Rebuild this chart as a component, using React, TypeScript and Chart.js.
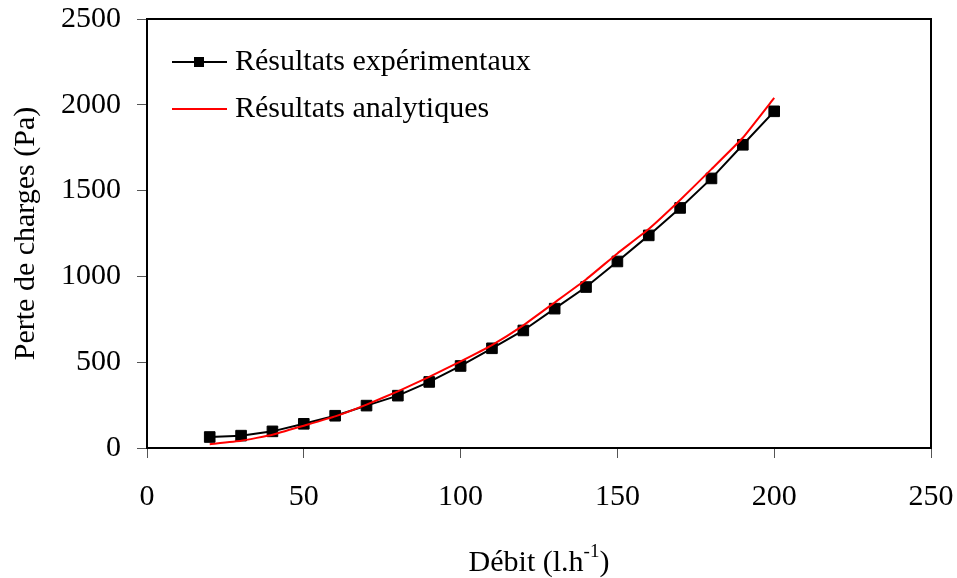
import React, { useEffect, useRef } from "react";
import { Chart, registerables } from "chart.js";

Chart.register(...registerables);

const debit = [20, 30, 40, 50, 60, 70, 80, 90, 100, 110, 120, 130, 140, 150, 160, 170, 180, 190, 200];
const experimental = [64, 72, 97, 141, 188, 247, 305, 385, 478, 581, 685, 812, 938, 1087, 1239, 1399, 1571, 1767, 1962];
const analytical = [22, 42, 77, 130, 184, 253, 330, 415, 505, 600, 715, 848, 982, 1134, 1276, 1445, 1625, 1808, 2040];
const seriesLabels = ["Résultats expérimentaux", "Résultats analytiques"];
const xTicks = [0, 50, 100, 150, 200, 250];
const yTicks = [0, 500, 1000, 1500, 2000, 2500];
const yTitle = "Perte de charges (Pa)";
const xTitleMain = "Débit (l.h";
const xTitleSup = "-1";
const xTitleEnd = ")";

const FONT = "'Liberation Serif', 'Times New Roman', serif";
const FS = 30;

const decorPlugin = {
  id: "decor",
  afterDatasetsDraw(chart: any) {
    const { ctx, chartArea } = chart;
    const { left, top, right, bottom } = chartArea;
    ctx.save();
    // frame
    ctx.strokeStyle = "#000";
    ctx.lineWidth = 2;
    ctx.strokeRect(left, top, right - left, bottom - top);

    // legend
    const ds = chart.data.datasets;
    const rows = [62, 109];
    ds.forEach((d: any, i: number) => {
      const y = rows[i];
      ctx.strokeStyle = d.borderColor;
      ctx.lineWidth = 2;
      ctx.beginPath();
      ctx.moveTo(172, y);
      ctx.lineTo(227, y);
      ctx.stroke();
      if (d.pointRadius > 0) {
        ctx.fillStyle = d.pointBackgroundColor;
        ctx.fillRect(194, y - 5, 10, 10);
      }
      ctx.fillStyle = "#000";
      ctx.font = `${FS}px ${FONT}`;
      ctx.textBaseline = "middle";
      ctx.textAlign = "left";
      ctx.fillText(d.label, 235, y);
    });

    // x title with superscript
    ctx.fillStyle = "#000";
    ctx.textBaseline = "alphabetic";
    ctx.textAlign = "left";
    const mainFont = `${FS}px ${FONT}`;
    const supFont = `19px ${FONT}`;
    ctx.font = mainFont;
    const w1 = ctx.measureText(xTitleMain).width;
    const w3 = ctx.measureText(xTitleEnd).width;
    ctx.font = supFont;
    const w2 = ctx.measureText(xTitleSup).width;
    const total = w1 + w2 + w3;
    const cx = (left + right) / 2;
    let x = cx - total / 2;
    const base = 571;
    ctx.font = mainFont;
    ctx.fillText(xTitleMain, x, base);
    x += w1;
    ctx.font = supFont;
    ctx.fillText(xTitleSup, x, base - 14);
    x += w2;
    ctx.font = mainFont;
    ctx.fillText(xTitleEnd, x, base);
    ctx.restore();
  },
};

export default function App() {
  const ref = useRef<HTMLCanvasElement | null>(null);

  useEffect(() => {
    document.body.style.margin = "0";
    const canvas = ref.current;
    if (!canvas) return;
    const chart = new Chart(canvas, {
      type: "line",
      data: {
        datasets: [
          {
            label: seriesLabels[0],
            data: debit.map((x, i) => ({ x, y: experimental[i] })),
            borderColor: "#000000",
            backgroundColor: "#000000",
            pointBackgroundColor: "#000000",
            pointBorderColor: "#000000",
            pointStyle: "rect",
            pointRadius: 7.5,
            pointBorderWidth: 1,
            borderWidth: 2,
            tension: 0,
            order: 1,
          },
          {
            label: seriesLabels[1],
            data: debit.map((x, i) => ({ x, y: analytical[i] })),
            borderColor: "#ff0000",
            backgroundColor: "#ff0000",
            pointBackgroundColor: "#ff0000",
            pointRadius: 0,
            borderWidth: 2,
            tension: 0.1,
            order: 0,
          },
        ],
      },
      options: {
        animation: false,
        responsive: false,
        devicePixelRatio: 1,
        layout: { padding: { top: 19, right: 26, bottom: 0, left: 0 } },
        plugins: {
          legend: { display: false },
          tooltip: { enabled: false },
          title: { display: false },
        },
        scales: {
          x: {
            type: "linear",
            min: xTicks[0],
            max: xTicks[xTicks.length - 1],
            afterFit: (s: any) => {
              s.height = 130;
              s.paddingLeft = 0;
              s.paddingRight = 0;
            },
            afterBuildTicks: (s: any) => {
              s.ticks = xTicks.map((v) => ({ value: v }));
            },
            border: { display: true, color: "#000", width: 2 },
            grid: {
              display: true,
              drawOnChartArea: false,
              drawTicks: true,
              tickLength: 10,
              color: "#555",
              lineWidth: 1,
            },
            ticks: {
              color: "#000",
              font: { family: FONT, size: FS },
              padding: 21,
              maxRotation: 0,
              callback: (v: any) => String(v),
            },
          },
          y: {
            type: "linear",
            min: yTicks[0],
            max: yTicks[yTicks.length - 1],
            afterFit: (s: any) => {
              s.width = 147;
              s.paddingTop = 0;
              s.paddingBottom = 0;
            },
            afterBuildTicks: (s: any) => {
              s.ticks = yTicks.map((v) => ({ value: v }));
            },
            border: { display: true, color: "#000", width: 2 },
            grid: {
              display: true,
              drawOnChartArea: false,
              drawTicks: true,
              tickLength: 10,
              color: "#555",
              lineWidth: 1,
            },
            ticks: {
              color: "#000",
              font: { family: FONT, size: FS },
              padding: 16,
              callback: (v: any) => String(v),
            },
            title: {
              display: true,
              text: yTitle,
              color: "#000",
              font: { family: FONT, size: FS },
              padding: { top: 8, bottom: 0 },
            },
          },
        },
      },
      plugins: [decorPlugin],
    });
    return () => chart.destroy();
  }, []);

  return (
    <div style={{ position: "absolute", left: 0, top: 0, width: 957, height: 578 }}>
      <canvas ref={ref} width={957} height={578} style={{ width: 957, height: 578, display: "block" }} />
    </div>
  );
}
